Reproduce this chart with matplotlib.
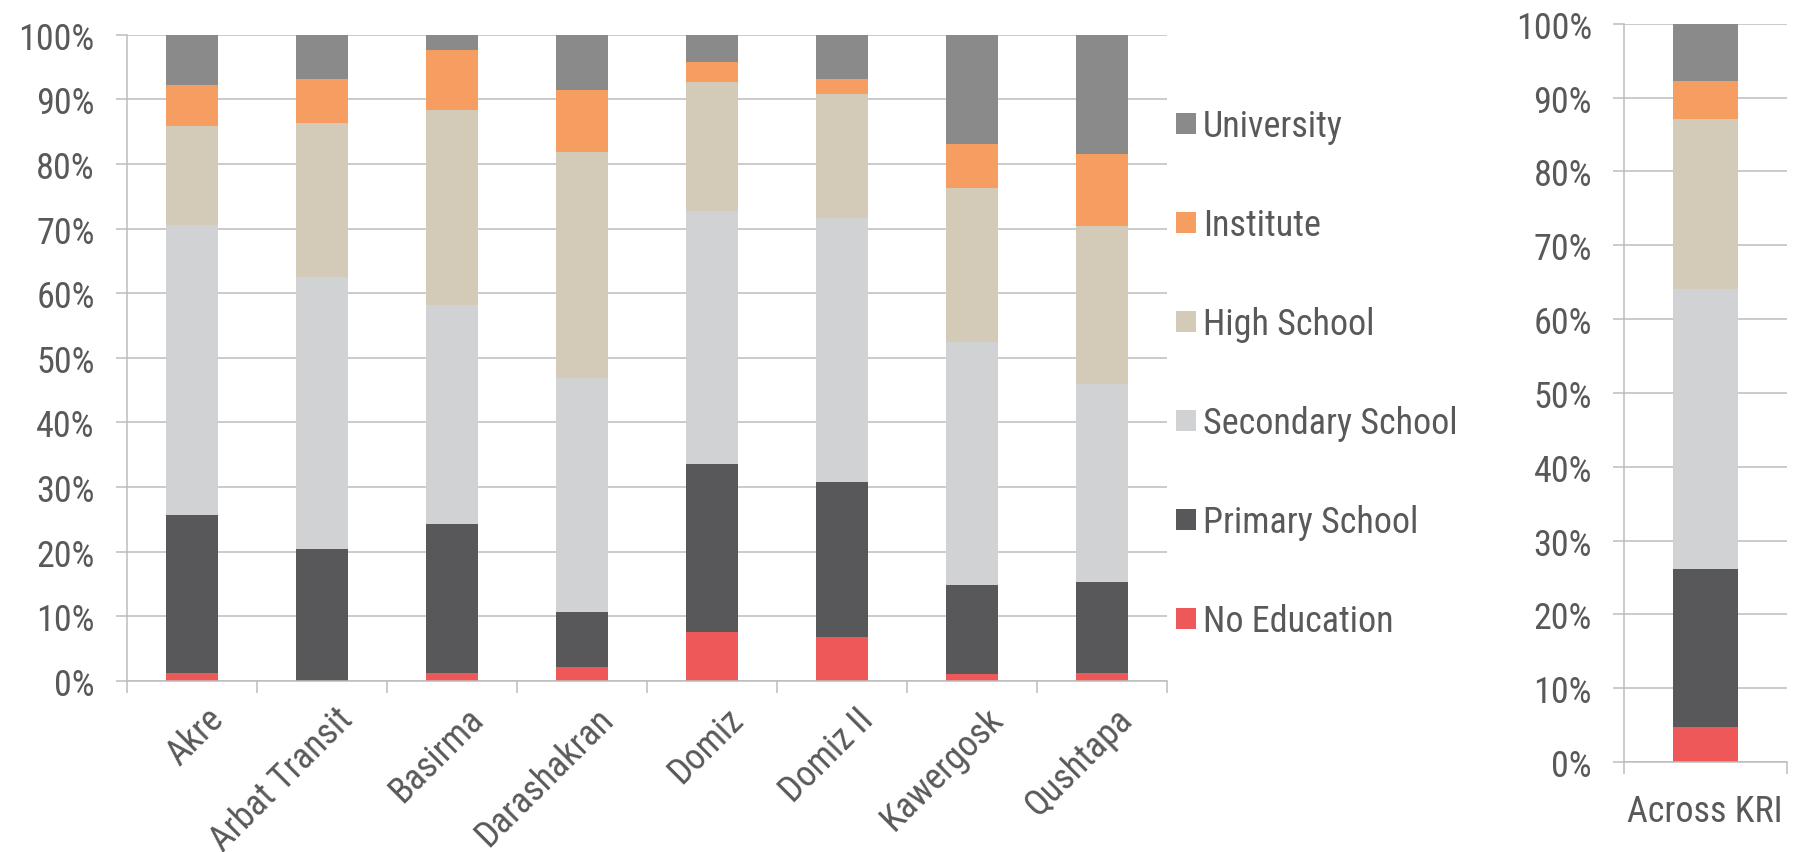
import matplotlib
matplotlib.use("Agg")
import matplotlib.pyplot as plt
import matplotlib.transforms as mtransforms
from matplotlib import font_manager
from matplotlib.ticker import PercentFormatter
import numpy as np

# Education level shares (%) per camp
camps = ["Akre", "Arbat Transit", "Basirma", "Darashakran", "Domiz", "Domiz II", "Kawergosk", "Qushtapa"]
no_education = [1.2, 0.0, 1.2, 2.1, 7.5, 6.8, 1.0, 1.2]
primary = [24.4, 20.4, 23.1, 8.5, 26.1, 23.9, 13.8, 14.1]
secondary = [45.0, 42.1, 33.9, 36.2, 39.1, 40.9, 37.7, 30.7]
high_school = [15.3, 23.8, 30.1, 35.0, 20.0, 19.3, 23.8, 24.4]
institute = [6.3, 6.9, 9.4, 9.6, 3.1, 2.3, 6.8, 11.2]
university = [7.8, 6.8, 2.3, 8.6, 4.2, 6.8, 16.9, 18.4]

# Whole region
kri_label = ["Across KRI"]
kri_values = [4.8, 21.3, 38.0, 23.0, 5.2, 7.7]

levels = ["No Education", "Primary School", "Secondary School", "High School", "Institute", "University"]
colors = ["#EE5859", "#58585A", "#D1D2D4", "#D3CBB7", "#F69E62", "#8A8A8A"]

text_col = "#595959"
grid_col = "#BDBDBD"

# pick a narrow sans
names = {f.name for f in font_manager.fontManager.ttflist}
font = "Liberation Sans"
for cand in ["Liberation Sans Narrow", "Arial Narrow", "Roboto Condensed", "Archivo Narrow",
             "PT Sans Narrow", "IBM Plex Sans Condensed"]:
    if cand in names:
        font = cand
        break
plt.rcParams["font.family"] = font
FS = 26

fig = plt.figure(figsize=(17.99, 8.53), dpi=100)
ax = fig.add_axes([0.0704, 0.2008, 0.5781, 0.7573])
ax2 = fig.add_axes([0.9027, 0.1055, 0.0904, 0.8655])


def style_axis(a):
    a.set_ylim(0, 100)
    a.set_yticks(np.arange(0, 101, 10))
    a.yaxis.set_major_formatter(PercentFormatter(decimals=0))
    a.grid(axis="y", color=grid_col, linewidth=1.1, zorder=0)
    a.set_axisbelow(True)
    for s in ["top", "right"]:
        a.spines[s].set_visible(False)
    for s in ["left", "bottom"]:
        a.spines[s].set_color(grid_col)
        a.spines[s].set_linewidth(1.1)
    a.tick_params(axis="y", length=8, width=1.1, color=grid_col, labelcolor=text_col,
                  labelsize=FS, pad=15)


# camps panel
series = [no_education, primary, secondary, high_school, institute, university]
x = np.arange(len(camps))
bottom = np.zeros(len(camps))
for lvl, vals, c in zip(levels, series, colors):
    ax.bar(x, vals, width=0.4, bottom=bottom, color=c, label=lvl, zorder=2)
    bottom += np.array(vals)
ax.set_xlim(-0.5, len(camps) - 0.5)
style_axis(ax)
ax.set_xticks(x)
ax.set_xticklabels(camps, rotation=45, ha="right", va="center", rotation_mode="anchor",
                   fontsize=FS, color=text_col)
ax.tick_params(axis="x", length=0, pad=22)
# nudge the slanted labels to the right of the bar centre
shift = mtransforms.ScaledTranslation(0.26, -0.02, fig.dpi_scale_trans)
for lab in ax.get_xticklabels():
    lab.set_transform(lab.get_transform() + shift)
ax.set_xticks(np.arange(-0.5, len(camps)), minor=True)
ax.tick_params(axis="x", which="minor", length=8.5, width=1.1, color=grid_col)

# region panel
b = 0.0
for lvl, v, c in zip(levels, kri_values, colors):
    ax2.bar([0], [v], width=0.4, bottom=b, color=c, zorder=2)
    b += v
ax2.set_xlim(-0.5, 0.5)
style_axis(ax2)
ax2.set_xticks([0])
ax2.set_xticklabels(kri_label, fontsize=FS, color=text_col)
ax2.tick_params(axis="x", length=0, pad=22)
ax2.set_xticks([-0.5, 0.5], minor=True)
ax2.tick_params(axis="x", which="minor", length=8.5, width=1.1, color=grid_col)

handles, labels = ax.get_legend_handles_labels()
leg = fig.legend(handles[::-1], labels[::-1], loc="upper left", bbox_to_anchor=(0.6537, 0.8719),
                 frameon=False, borderpad=0, borderaxespad=0, handlelength=0.55, handleheight=0.55,
                 handletextpad=0.2, labelspacing=1.745, fontsize=FS)
for t in leg.get_texts():
    t.set_color(text_col)

fig.savefig("out.png", dpi=100)
